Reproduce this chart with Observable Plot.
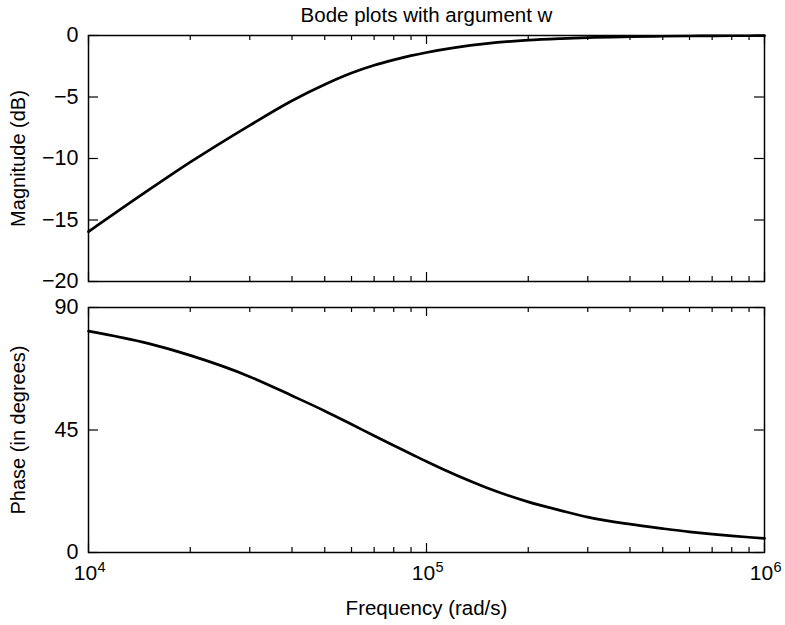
<!DOCTYPE html>
<html>
<head>
<meta charset="utf-8">
<script src="https://cdn.jsdelivr.net/npm/d3@7"></script>
<script src="https://cdn.jsdelivr.net/npm/@observablehq/plot@0.6"></script>
<style>
  html, body { margin: 0; padding: 0; background: #fff; }
  #chart { position: relative; width: 785px; height: 625px; font-family: "Liberation Sans", Arial, Helvetica, sans-serif; }
  #chart svg { display: block; }
</style>
</head>
<body>
<div id="chart"></div>
<script>
// ---- data ----
const freqs = [1e4, 1.5e4, 2e4, 3e4, 4e4, 5e4, 6e4, 7e4, 8e4, 9e4, 1e5, 1.5e5, 2e5, 2.5e5, 3e5, 4e5, 5e5, 6e5, 7e5, 8e5, 9e5, 1e6];
const magnitudeDb = [-15.95, -12.6, -10.3, -7.3, -5.3, -3.98, -3.05, -2.42, -1.98, -1.64, -1.38, -0.66, -0.38, -0.25, -0.17, -0.1, -0.06, -0.04, -0.03, -0.02, -0.02, -0.015];
const phaseDeg = [81.3, 76.8, 72.4, 64.6, 57.6, 52.0, 47.1, 42.9, 39.3, 36.2, 33.4, 23.9, 18.6, 15.4, 13.0, 10.4, 8.8, 7.6, 6.75, 6.1, 5.6, 5.2];

const xMajorTicks = [1e4, 1e5, 1e6];
const xMinorTicks = [2e4, 3e4, 4e4, 5e4, 6e4, 7e4, 8e4, 9e4, 2e5, 3e5, 4e5, 5e5, 6e5, 7e5, 8e5, 9e5];
const magTicks = [-20, -15, -10, -5, 0];
const magTickLabels = ["\u221220", "\u221215", "\u221210", "\u22125", "0"];
const phaseTicks = [0, 45, 90];
const phaseTickLabels = ["0", "45", "90"];
const xTickBase = ["10", "10", "10"];
const xTickExponents = ["4", "5", "6"];

const title = "Bode plots with argument w";
const magLabel = "Magnitude (dB)";
const phaseLabel = "Phase (in degrees)";
const freqLabel = "Frequency (rad/s)";

// ---- layout ----
const W = 785;
const mL = 88, mR = 21;
const frameW = W - mL - mR;
const font = "Liberation Sans, Arial, Helvetica, sans-serif";
const tickFont = 21.5;

const magData = freqs.map((f, i) => ({f, v: magnitudeDb[i]}));
const phaseData = freqs.map((f, i) => ({f, v: phaseDeg[i]}));

function panel({height, marginTop, marginBottom, data, yDomain, yTicks, yTickLabels, yLabel, bottomAxis, topText}) {
  const frameH = height - marginTop - marginBottom;
  const marks = [
    Plot.frame({stroke: "black", strokeWidth: 1.5}),
    // inward x ticks (top and bottom edges)
    Plot.tickX(xMajorTicks, {x: d => d, stroke: "black", strokeWidth: 1.2, insetBottom: frameH - 9}),
    Plot.tickX(xMajorTicks, {x: d => d, stroke: "black", strokeWidth: 1.2, insetTop: frameH - 9}),
    Plot.tickX(xMinorTicks, {x: d => d, stroke: "black", strokeWidth: 1.2, insetBottom: frameH - 5}),
    Plot.tickX(xMinorTicks, {x: d => d, stroke: "black", strokeWidth: 1.2, insetTop: frameH - 5}),
    // inward y ticks (left and right edges)
    Plot.tickY(yTicks, {y: d => d, stroke: "black", strokeWidth: 1.2, insetRight: frameW - 10}),
    Plot.tickY(yTicks, {y: d => d, stroke: "black", strokeWidth: 1.2, insetLeft: frameW - 10}),
    // y tick labels
    Plot.text(yTicks, {y: d => d, frameAnchor: "left", textAnchor: "end", lineAnchor: "middle",
      text: (d, i) => yTickLabels[i], dx: -10, fontSize: tickFont, fill: "black"}),
    Plot.line(data, {x: "f", y: "v", stroke: "black", strokeWidth: 2.7, curve: "monotone-x"}),
    Plot.text([yLabel], {frameAnchor: "left", textAnchor: "middle", lineAnchor: "middle", text: d => d, rotate: -90, dx: -70, fontSize: 20, fill: "black"})
  ];
  if (bottomAxis) {
    marks.push(Plot.text(xMajorTicks, {x: d => d, frameAnchor: "bottom", textAnchor: "middle", lineAnchor: "top",
      text: (d, i) => xTickBase[i], dx: -3, dy: 13, fontSize: 21, fill: "black"}));
    marks.push(Plot.text(xMajorTicks, {x: d => d, frameAnchor: "bottom", textAnchor: "start", lineAnchor: "top",
      text: (d, i) => xTickExponents[i], dx: 9, dy: 9, fontSize: 14.5, fill: "black"}));
    marks.push(Plot.text([freqLabel], {frameAnchor: "bottom", textAnchor: "middle", lineAnchor: "middle", text: d => d, dy: 56, fontSize: 20.5, fill: "black"}));
  }
  if (topText) {
    marks.push(Plot.text([topText], {frameAnchor: "top", textAnchor: "middle", lineAnchor: "middle", text: d => d, dy: -20, fontSize: 20.5, fill: "black"}));
  }
  return Plot.plot({
    width: W, height, marginTop, marginBottom, marginLeft: mL, marginRight: mR,
    style: {fontFamily: font, color: "black", background: "white", overflow: "visible"},
    x: {type: "log", domain: [1e4, 1e6], axis: null},
    y: {domain: yDomain, axis: null},
    marks
  });
}

const chart = document.getElementById("chart");
chart.appendChild(panel({height: 294, marginTop: 35, marginBottom: 13, data: magData,
  yDomain: [-20, 0], yTicks: magTicks, yTickLabels: magTickLabels, yLabel: magLabel, bottomAxis: false, topText: title}));
chart.appendChild(panel({height: 331, marginTop: 13, marginBottom: 73, data: phaseData,
  yDomain: [0, 90], yTicks: phaseTicks, yTickLabels: phaseTickLabels, yLabel: phaseLabel, bottomAxis: true}));
</script>
</body>
</html>
